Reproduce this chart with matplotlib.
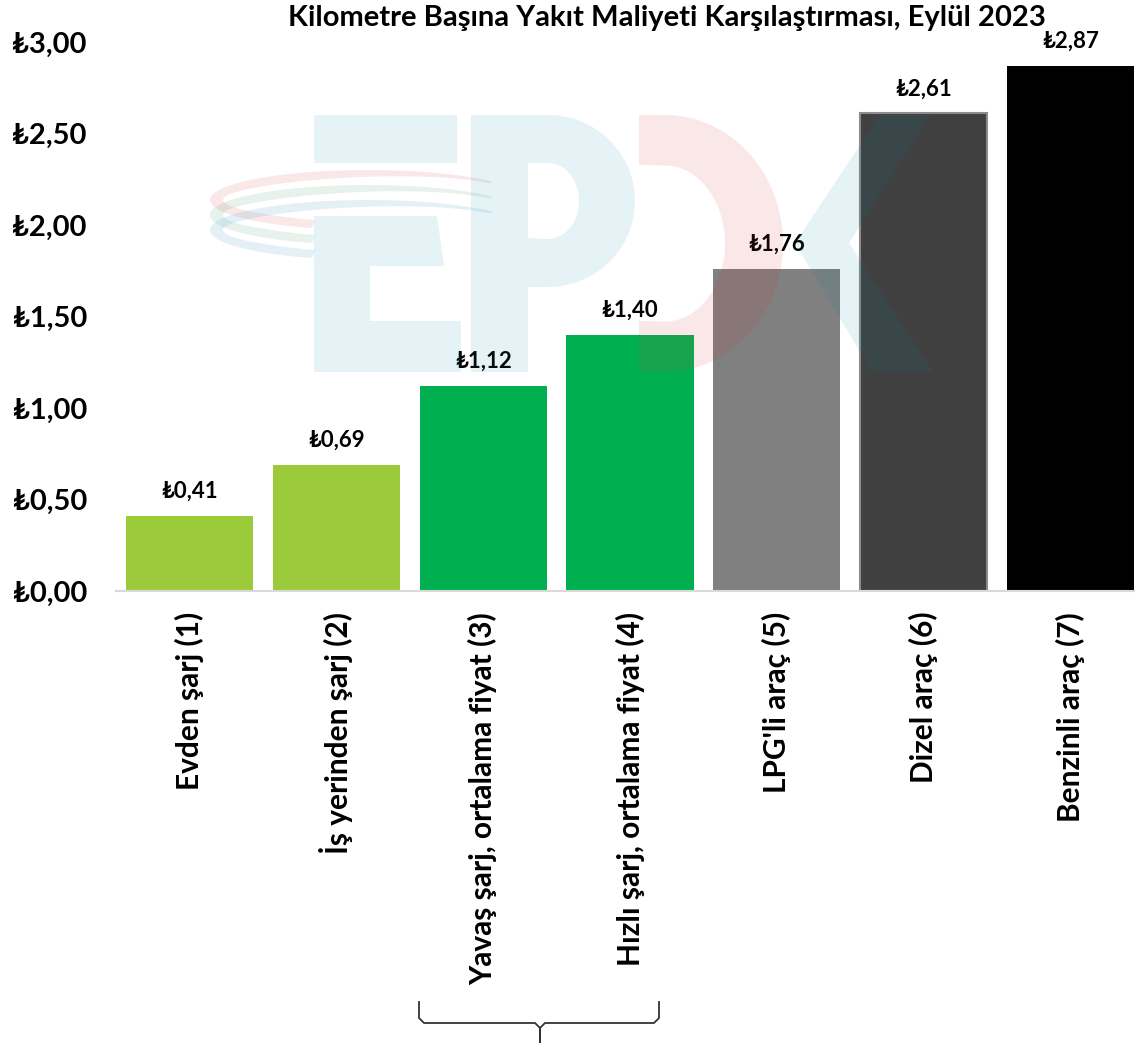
import numpy as np
import matplotlib
matplotlib.use('Agg')
import matplotlib.pyplot as plt
from matplotlib.patches import Polygon

plt.rcParams['font.family'] = ['Lato', 'DejaVu Sans']
plt.rcParams['font.weight'] = 'bold'

# veri
categories = ['Evden şarj (1)', 'İş yerinden şarj (2)', 'Yavaş şarj, ortalama fiyat (3)',
              'Hızlı şarj, ortalama fiyat (4)', "LPG'li araç (5)", 'Dizel araç (6)',
              'Benzinli araç (7)']
values = [0.41, 0.69, 1.12, 1.40, 1.76, 2.61, 2.87]
bar_colors = ['#9BCB3B', '#9BCB3B', '#00B050', '#00B050', '#808080', '#404040', '#000000']
yticks = [0, 0.5, 1.0, 1.5, 2.0, 2.5, 3.0]

W, H = 1135, 1043
fig = plt.figure(figsize=(W / 100, H / 100), dpi=100)
ax = fig.add_axes([116 / W, 1 - 591 / H, 1028 / W, 549 / H])

x = np.arange(len(categories))
bars = ax.bar(x, values, width=0.865, color=bar_colors, zorder=2)
bars[5].set_edgecolor('#8C8C8C')
bars[5].set_linewidth(1.5)

for xi, v in zip(x, values):
    ax.annotate('₺' + f'{v:.2f}'.replace('.', ','), (xi, v), xytext=(0, 10),
                textcoords='offset points', ha='center', va='bottom',
                fontsize=16, fontweight='bold', zorder=5)

ax.set_xlim(-0.5, 6.5)
ax.set_ylim(0, 3.0)
ax.set_yticks(yticks)
ax.set_yticklabels(['₺' + f'{t:.2f}'.replace('.', ',') for t in yticks],
                   fontsize=21, fontweight='bold')
ax.set_xticks(x)
ax.set_xticklabels(categories, rotation=90, fontsize=21.5, fontweight='bold')
ax.tick_params(axis='y', length=0, pad=21)
ax.tick_params(axis='x', length=0, pad=15)
for s in ['top', 'right', 'left']:
    ax.spines[s].set_visible(False)
ax.spines['bottom'].set_color('#D9D9D9')
ax.spines['bottom'].set_linewidth(1.5)

fig.text(667 / W, 1 - 18 / H, 'Kilometre Başına Yakıt Maliyeti Karşılaştırması, Eylül 2023',
         ha='center', va='center', fontsize=21, fontweight='bold')

# filigran (EPDK logosu) ve parantez, piksel koordinatlarında
ov = fig.add_axes([0, 0, 1, 1], zorder=3)
ov.set_xlim(0, W)
ov.set_ylim(H, 0)
ov.axis('off')
ov.patch.set_alpha(0)

blue = dict(facecolor='#0088B0', alpha=0.10, edgecolor='none')
pink = dict(facecolor='#D2323C', alpha=0.11, edgecolor='none')

def half_ring(x0, cy, rxo, ryo, rxi, ryi, top, bottom, itop, ibottom, xl):
    t = np.linspace(np.pi / 2, -np.pi / 2, 60)
    outer = np.column_stack([x0 + rxo * np.cos(t), cy - ryo * np.sin(t)])
    inner = np.column_stack([x0 + rxi * np.cos(t[::-1]), cy - ryi * np.sin(t[::-1])])
    pts = np.vstack([[[xl, top]], outer, [[xl, bottom], [xl, ibottom]], inner, [[xl, itop]]])
    return pts

# E
for pts in ([(314, 115), (457, 115), (457, 163), (314, 163)],
            [(314, 216), (437, 216), (444, 266), (370, 266), (370, 321), (461, 321),
             (461, 372), (314, 372)]):
    ov.add_patch(Polygon(pts, closed=True, **blue))
# P
ov.add_patch(Polygon([(471, 115), (528, 115), (528, 372), (471, 372)], closed=True, **blue))
ov.add_patch(Polygon(half_ring(548, 201, 87, 86, 31, 38, 115, 287, 163, 238, 528),
                     closed=True, **blue))
# D
ov.add_patch(Polygon(half_ring(665, 243.5, 118, 128.5, 60, 78, 115, 372, 165, 321, 639),
                     closed=True, **pink))
# K
ov.add_patch(Polygon([(880, 115), (930, 115), (849, 243), (933, 372), (872, 372), (795, 243)],
                     closed=True, **blue))

# halkalar (sol tarafta kalın, uca doğru incelen)
cx, rx, ry = 368, 158, 30
t1 = np.radians(38)
t2 = np.arccos((312 - cx) / rx)
t2 = 2 * np.pi - t2
t = np.linspace(t1, t2, 150)
w = 2 + 11 * (1 - np.cos(t)) / 2
for cy, col in [(200, '#D2323C'), (215, '#2E8B57'), (230, '#0088B0')]:
    outer = np.column_stack([cx + rx * np.cos(t), cy - ry * np.sin(t)])
    inner = np.column_stack([cx + (rx - w) * np.cos(t), cy - (ry - w * 0.9) * np.sin(t)])
    ov.add_patch(Polygon(np.vstack([outer, inner[::-1]]), closed=True,
                         facecolor=col, alpha=0.11, edgecolor='none'))

# parantez
bx = [419, 419, 424, 535, 540, 540, 540, 545, 654, 659, 659]
by = [1002, 1018, 1023, 1023, 1028, 1043, 1028, 1023, 1023, 1018, 1002]
ov.plot(bx, by, color='#333333', lw=1.3)

fig.savefig('out.png', dpi=100)
